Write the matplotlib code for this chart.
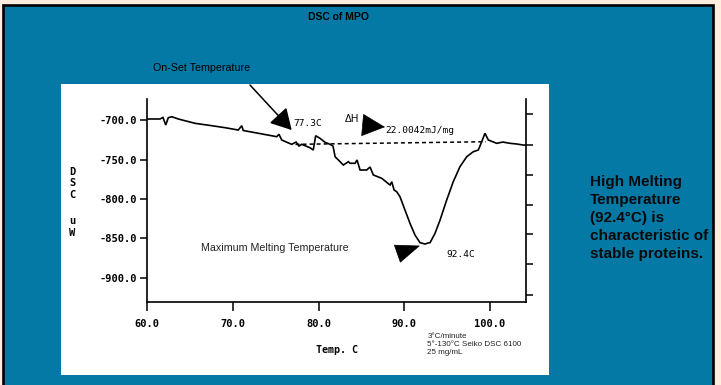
"""DSC of MPO slide: thermogram with onset / peak annotations."""
import matplotlib
matplotlib.use("Agg")
import matplotlib.pyplot as plt
from matplotlib.patches import Rectangle
from matplotlib.ticker import FormatStrFormatter

plt.rcParams.update({
    "font.family": ["Liberation Sans", "DejaVu Sans"],
    "axes.unicode_minus": False,
})

MONO = ["DejaVu Sans Mono", "Liberation Mono"]
BLUE = "#0479A6"
BEIGE = "#FFEEDD"

# ---- data -------------------------------------------------------------
temp = [60.0, 61.48, 61.83, 62.15, 62.45, 62.85, 63.62, 65.57, 67.52, 69.07,
        70.62, 71.02, 71.2, 72.96, 75.1, 75.37, 75.69, 76.85, 77.36, 77.7,
        78.02, 78.99, 79.37, 79.65, 80.16, 80.74, 81.33, 81.67, 81.92, 82.5,
        82.88, 83.47, 83.67, 84.25, 84.48, 84.83, 85.6, 86.0, 86.38, 87.36,
        88.33, 88.53, 88.8, 89.11, 89.49, 90.07, 90.66, 91.24, 91.83, 92.41,
        92.76, 93.0, 93.58, 94.17, 94.94, 95.71, 96.49, 97.28, 98.05, 98.63,
        99.03, 99.41, 99.8, 100.78, 101.5, 102.33, 103.15, 103.88, 104.08]
dsc = [-698.7, -698.7, -696.8, -706.3, -697.1, -695.8, -698.7, -704.2, -707.2, -709.7,
       -712.7, -707.2, -713.3, -716.8, -721.1, -718.1, -725.3, -730.8, -727.9, -732.9,
       -730.8, -735.1, -738.0, -719.9, -723.2, -728.2, -730.8, -732.9, -746.5, -752.8,
       -757.0, -752.8, -754.8, -754.8, -750.6, -763.3, -763.3, -759.5, -769.6, -773.8,
       -782.3, -778.1, -788.6, -790.8, -797.1, -813.9, -830.8, -845.6, -855.3, -857.0,
       -855.7, -855.3, -843.4, -826.6, -801.3, -778.1, -759.1, -746.5, -740.1, -738.0,
       -727.5, -716.8, -725.3, -729.5, -727.9, -729.5, -730.4, -731.7, -731.7]

# integration baseline (dashed)
base_temp = [77.3, 99.5]
base_dsc = [-730.8, -727.5]

onset_temp = 77.3
peak_temp = 92.4
delta_h = 22.0042

x_ticks = [60, 70, 80, 90, 100]
y_ticks = [-700, -750, -800, -850, -900]
right_ticks = [-692.4, -731.7, -769.6, -807.6, -844.3, -882.3, -921.6]

notes = "3°C/minute\n5°-130°C Seiko DSC 6100\n25 mg/mL"
side_text = "High Melting\nTemperature\n(92.4°C) is\ncharacteristic of\nstable proteins."

# ---- figure -------------------------------------------------------------
W, H = 721, 385
fig = plt.figure(figsize=(W / 100, H / 100), dpi=100, facecolor=BEIGE)


def fx(x):
    return x / W


def fy(y):
    return 1 - y / H


# blue slide panel + white plot card
panel = Rectangle((fx(3.5), fy(395)), fx(712.5) - fx(3.5), fy(5) - fy(395),
                  transform=fig.transFigure, facecolor=BLUE, edgecolor="none",
                  zorder=-3)
fig.patches.append(panel)
border = Rectangle((fx(3.5), fy(395)), fx(712.5) - fx(3.5), fy(5) - fy(395),
                   transform=fig.transFigure, fill=False, edgecolor="black",
                   lw=1.9, zorder=10)
fig.patches.append(border)
card = Rectangle((fx(61), fy(374.5)), fx(549) - fx(61), fy(84) - fy(374.5),
                 transform=fig.transFigure, facecolor="white", edgecolor="none",
                 zorder=-2)
fig.patches.append(card)

ax = fig.add_axes([fx(147.3), fy(302), (525.5 - 147.3) / W, (302 - 99) / H])
ax.patch.set_visible(False)
ax.set_xlim(60, 104.14)
ax.set_ylim(-930.4, -673.4)

ax.plot(temp, dsc, color="black", lw=1.2, solid_joinstyle="miter")
ax.plot(base_temp, base_dsc, color="black", lw=1.1, ls=(0, (2.6, 2.0)))

for side in ("top", "right"):
    ax.spines[side].set_visible(False)
for side in ("left", "bottom"):
    ax.spines[side].set_linewidth(1.2)

ax.set_xticks(x_ticks)
ax.set_yticks(y_ticks)
ax.xaxis.set_major_formatter(FormatStrFormatter("%.1f"))
ax.yaxis.set_major_formatter(FormatStrFormatter("%.1f"))
ax.tick_params(axis="x", direction="out", length=6.5, width=1.1, pad=5.5)
ax.tick_params(axis="y", direction="out", length=5, width=1.1, pad=2.2)
for lab in ax.get_xticklabels() + ax.get_yticklabels():
    lab.set_fontfamily(MONO)
    lab.set_fontweight("bold")
    lab.set_fontsize(7.5)

ax2 = ax.twinx()
ax2.set_ylim(ax.get_ylim())
ax2.set_yticks(right_ticks)
ax2.set_yticklabels([])
ax2.tick_params(axis="y", direction="out", length=5, width=1.1)
for side in ("top", "left", "bottom"):
    ax2.spines[side].set_visible(False)
ax2.spines["right"].set_linewidth(1.2)

# ---- annotations --------------------------------------------------------
ax.annotate("", xy=(onset_temp - 0.45, -712.7), xytext=(fx(250), fy(85)),
            textcoords="figure fraction", annotation_clip=False,
            arrowprops=dict(arrowstyle="-|>,head_length=0.8,head_width=0.45",
                            mutation_scale=16, lw=1.1, color="black",
                            shrinkA=0, shrinkB=0))
ax.text(onset_temp - 0.3, -703.8, f"{onset_temp:.1f}C", family=MONO,
        fontsize=6.8, ha="left", va="center")

ax.text(83.07, -698.5, "ΔH", fontsize=7.5, ha="left", va="center")
ax.annotate("", xy=(87.74, -708.9), xytext=(-15.6, 1.4),
            textcoords="offset points",
            arrowprops=dict(arrowstyle="-|>,head_length=1.0,head_width=0.49",
                            mutation_scale=15.6, lw=0.5, color="black",
                            shrinkA=0, shrinkB=0))
ax.text(87.78, -712.7, f"{delta_h:.4f}mJ/mg", family=MONO, fontsize=6.8,
        ha="left", va="center")

ax.annotate("", xy=(peak_temp - 0.57, -859.1), xytext=(-15.6, -5.5),
            textcoords="offset points",
            arrowprops=dict(arrowstyle="-|>,head_length=1.0,head_width=0.39",
                            mutation_scale=16.6, lw=0.5, color="black",
                            shrinkA=0, shrinkB=0))
ax.text(peak_temp + 2.54, -870, f"{peak_temp:.1f}C", family=MONO,
        fontsize=6.8, ha="left", va="center")
ax.text(74.9, -862.4, "Maximum Melting Temperature", fontsize=7.7,
        color="#222222", ha="center", va="center")

# ---- figure level text ----------------------------------------------------
fig.text(fx(338), fy(17), "DSC of MPO", fontsize=7.5, fontweight="bold",
         ha="center", va="center")
fig.text(fx(202), fy(68), "On-Set Temperature", fontsize=7.7,
         ha="center", va="center")
fig.text(fx(336.5), fy(350), "Temp. C", family=MONO, fontsize=7.2,
         fontweight="bold", ha="center", va="center")
fig.text(fx(427.5), fy(333), notes, fontsize=5.8, linespacing=1.25,
         color="#222222", ha="left", va="top")

for letter, yy in zip(["D", "S", "C", "u", "W"], [172, 183, 195, 221, 233]):
    fig.text(fx(72), fy(yy), letter, family=MONO, fontsize=7.5,
             fontweight="bold", ha="center", va="center")

side = fig.text(fx(590), fy(175), side_text, fontsize=11, fontweight="bold",
                linespacing=1.37, ha="left", va="top", color="#0a0a0a")
clip = Rectangle((0, 0), fx(711.5), 1, transform=fig.transFigure)
side.set_clip_path(clip)

fig.savefig("out.png", dpi=100, facecolor=BEIGE)
